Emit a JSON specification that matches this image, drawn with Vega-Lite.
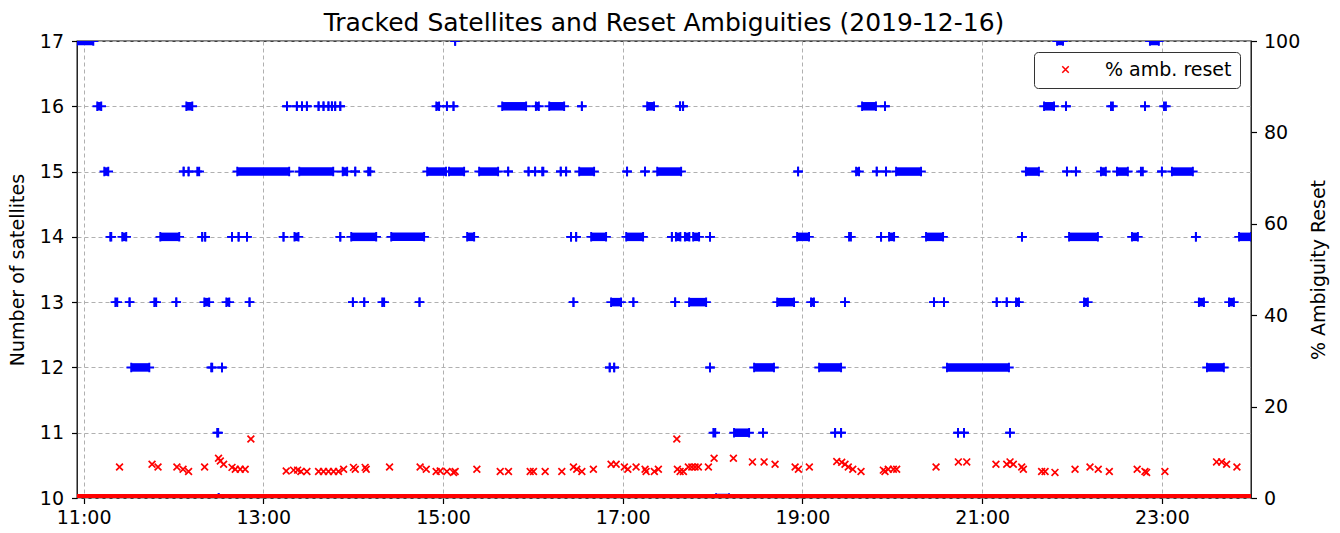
{
"$schema": "https://vega.github.io/schema/vega-lite/v6.json",
"width": 1174, "height": 457,
"autosize": {"type": "none"},
"padding": {"left": 77, "top": 41, "right": 89, "bottom": 35},
"title": {"text": "Tracked Satellites and Reset Ambiguities (2019-12-16)", "fontSize": 25, "fontWeight": "normal", "font": "DejaVu Sans", "color": "#000000", "offset": -4, "anchor": "middle"},
"datasets": {
"sat": [
{"n":17,"a":655.6,"b":666.5},{"n":17,"a":908.1,"b":908.1},{"n":17,"a":1310.0,"b":1314.0},{"n":17,"a":1372.0,"b":1378.0},
{"n":16,"a":669.1,"b":671.8},{"n":16,"a":728.6,"b":732.6},{"n":16,"a":795.8,"b":795.8},{"n":16,"a":802.4,"b":802.4},{"n":16,"a":805.8,"b":805.8},{"n":16,"a":809.1,"b":809.1},{"n":16,"a":816.9,"b":816.9},{"n":16,"a":820.2,"b":820.2},{"n":16,"a":823.5,"b":823.5},{"n":16,"a":825.8,"b":825.8},{"n":16,"a":828.0,"b":828.0},{"n":16,"a":831.4,"b":831.4},{"n":16,"a":895.5,"b":897.4},{"n":16,"a":902.6,"b":902.6},{"n":16,"a":907.0,"b":907.0},{"n":16,"a":939.5,"b":955.5},{"n":16,"a":962.0,"b":964.0},{"n":16,"a":970.9,"b":980.9},{"n":16,"a":992.7,"b":992.7},{"n":16,"a":1036.3,"b":1040.9},{"n":16,"a":1058.3,"b":1058.3},{"n":16,"a":1060.3,"b":1060.3},{"n":16,"a":1179.8,"b":1189.1},{"n":16,"a":1195.1,"b":1195.1},{"n":16,"a":1301.3,"b":1308.0},{"n":16,"a":1316.0,"b":1316.0},{"n":16,"a":1346.0,"b":1347.3},{"n":16,"a":1368.7,"b":1368.7},{"n":16,"a":1381.4,"b":1382.7},
{"n":15,"a":673.8,"b":676.5},{"n":15,"a":726.8,"b":726.8},{"n":15,"a":730.1,"b":730.1},{"n":15,"a":735.9,"b":737.2},{"n":15,"a":762.6,"b":797.3},{"n":15,"a":804.0,"b":826.7},{"n":15,"a":833.0,"b":836.0},{"n":15,"a":841.4,"b":841.4},{"n":15,"a":850.0,"b":851.5},{"n":15,"a":889.4,"b":902.0},{"n":15,"a":904.0,"b":914.1},{"n":15,"a":924.1,"b":936.8},{"n":15,"a":943.5,"b":943.5},{"n":15,"a":957.1,"b":957.1},{"n":15,"a":961.5,"b":961.5},{"n":15,"a":966.2,"b":967.0},{"n":15,"a":978.6,"b":978.6},{"n":15,"a":982.2,"b":982.2},{"n":15,"a":990.9,"b":1000.9},{"n":15,"a":1022.9,"b":1022.9},{"n":15,"a":1034.9,"b":1034.9},{"n":15,"a":1043.0,"b":1059.0},{"n":15,"a":1137.1,"b":1137.1},{"n":15,"a":1175.8,"b":1177.8},{"n":15,"a":1189.6,"b":1189.6},{"n":15,"a":1195.8,"b":1195.8},{"n":15,"a":1202.5,"b":1219.2},{"n":15,"a":1289.2,"b":1297.9},{"n":15,"a":1316.6,"b":1316.6},{"n":15,"a":1322.6,"b":1322.6},{"n":15,"a":1339.3,"b":1342.6},{"n":15,"a":1350.0,"b":1357.3},{"n":15,"a":1366.0,"b":1367.3},{"n":15,"a":1380.0,"b":1380.0},{"n":15,"a":1386.7,"b":1400.7},
{"n":14,"a":677.8,"b":678.5},{"n":14,"a":685.8,"b":688.5},{"n":14,"a":711.2,"b":723.9},{"n":14,"a":739.2,"b":739.2},{"n":14,"a":741.2,"b":741.2},{"n":14,"a":759.1,"b":759.1},{"n":14,"a":763.5,"b":763.5},{"n":14,"a":769.1,"b":769.1},{"n":14,"a":793.5,"b":793.5},{"n":14,"a":800.8,"b":803.5},{"n":14,"a":831.4,"b":831.4},{"n":14,"a":838.7,"b":855.4},{"n":14,"a":865.4,"b":887.4},{"n":14,"a":916.1,"b":920.8},{"n":14,"a":985.5,"b":985.5},{"n":14,"a":988.9,"b":988.9},{"n":14,"a":998.9,"b":1008.9},{"n":14,"a":1022.3,"b":1033.6},{"n":14,"a":1052.8,"b":1052.8},{"n":14,"a":1055.5,"b":1058.5},{"n":14,"a":1061.5,"b":1064.5},{"n":14,"a":1067.0,"b":1071.0},{"n":14,"a":1078.3,"b":1078.3},{"n":14,"a":1136.4,"b":1144.4},{"n":14,"a":1171.1,"b":1172.4},{"n":14,"a":1192.5,"b":1192.5},{"n":14,"a":1197.8,"b":1201.2},{"n":14,"a":1222.5,"b":1233.9},{"n":14,"a":1286.6,"b":1286.6},{"n":14,"a":1318.0,"b":1337.3},{"n":14,"a":1360.0,"b":1364.0},{"n":14,"a":1402.7,"b":1402.7},{"n":14,"a":1431.5,"b":1439.5},
{"n":13,"a":681.2,"b":682.5},{"n":13,"a":690.7,"b":690.7},{"n":13,"a":707.2,"b":708.5},{"n":13,"a":721.9,"b":721.9},{"n":13,"a":740.6,"b":743.9},{"n":13,"a":755.3,"b":757.3},{"n":13,"a":770.8,"b":770.8},{"n":13,"a":839.8,"b":839.8},{"n":13,"a":847.4,"b":847.4},{"n":13,"a":859.4,"b":860.7},{"n":13,"a":884.3,"b":884.3},{"n":13,"a":987.1,"b":987.1},{"n":13,"a":1012.2,"b":1018.9},{"n":13,"a":1027.1,"b":1027.1},{"n":13,"a":1055.0,"b":1055.0},{"n":13,"a":1064.3,"b":1075.7},{"n":13,"a":1123.1,"b":1134.4},{"n":13,"a":1145.7,"b":1147.7},{"n":13,"a":1168.4,"b":1168.4},{"n":13,"a":1227.8,"b":1227.8},{"n":13,"a":1234.5,"b":1234.5},{"n":13,"a":1269.7,"b":1269.7},{"n":13,"a":1276.4,"b":1276.4},{"n":13,"a":1282.6,"b":1284.6},{"n":13,"a":1328.0,"b":1330.6},{"n":13,"a":1404.7,"b":1408.1},{"n":13,"a":1424.8,"b":1428.1},
{"n":12,"a":691.8,"b":703.9},{"n":12,"a":745.2,"b":745.9},{"n":12,"a":752.4,"b":752.4},{"n":12,"a":1011.3,"b":1011.3},{"n":12,"a":1014.3,"b":1014.3},{"n":12,"a":1078.3,"b":1078.3},{"n":12,"a":1107.7,"b":1121.0},{"n":12,"a":1151.1,"b":1165.8},{"n":12,"a":1236.5,"b":1277.9},{"n":12,"a":1410.1,"b":1421.4},
{"n":11,"a":749.2,"b":749.9},{"n":11,"a":1080.5,"b":1081.8},{"n":11,"a":1094.3,"b":1104.4},{"n":11,"a":1113.7,"b":1113.7},{"n":11,"a":1161.8,"b":1161.8},{"n":11,"a":1165.8,"b":1165.8},{"n":11,"a":1243.9,"b":1243.9},{"n":11,"a":1247.9,"b":1247.9},{"n":11,"a":1278.6,"b":1278.6},
{"n":10,"a":750.2,"b":750.2},{"n":10,"a":1082.3,"b":1091.0}
],
"zero": [{"a":655.6,"b":1439.5,"p":0}],
"reset": [
{"t":684.0,"p":6.8},{"t":705.7,"p":7.4},{"t":709.7,"p":6.8},{"t":722.3,"p":6.8},{"t":726.4,"p":6.3},{"t":730.1,"p":5.8},{"t":740.8,"p":6.8},{"t":750.1,"p":8.7},{"t":751.3,"p":8.1},{"t":753.5,"p":7.4},{"t":759.1,"p":6.7},{"t":761.3,"p":6.3},{"t":764.6,"p":6.3},{"t":767.9,"p":6.3},{"t":771.7,"p":12.9},
{"t":795.3,"p":5.9},{"t":800.2,"p":6.1},{"t":802.9,"p":6.1},{"t":805.1,"p":5.8},{"t":809.1,"p":5.8},{"t":816.9,"p":5.8},{"t":820.2,"p":5.8},{"t":823.5,"p":5.8},{"t":826.9,"p":5.8},{"t":830.2,"p":5.8},{"t":833.6,"p":6.3},{"t":840.2,"p":6.7},{"t":841.4,"p":6.3},{"t":848.0,"p":6.7},{"t":848.7,"p":6.3},{"t":864.3,"p":6.8},{"t":884.7,"p":6.8},{"t":888.8,"p":6.3},{"t":895.4,"p":5.8},{"t":898.1,"p":5.9},{"t":902.6,"p":5.8},{"t":907.0,"p":5.6},{"t":908.1,"p":5.8},
{"t":922.6,"p":6.3},{"t":938.2,"p":5.8},{"t":943.7,"p":5.8},{"t":958.2,"p":5.8},{"t":960.4,"p":5.8},{"t":968.2,"p":5.8},{"t":979.3,"p":5.8},{"t":987.1,"p":6.8},{"t":989.3,"p":6.3},{"t":992.7,"p":5.8},{"t":1000.4,"p":6.3},{"t":1012.2,"p":7.4},{"t":1015.6,"p":7.4},{"t":1021.1,"p":6.8},{"t":1023.4,"p":6.3},{"t":1028.9,"p":6.8},{"t":1034.9,"p":6.3},{"t":1035.6,"p":5.8},{"t":1041.1,"p":5.8},{"t":1043.8,"p":6.3},
{"t":1056.1,"p":12.9},{"t":1056.5,"p":6.3},{"t":1058.3,"p":5.8},{"t":1060.5,"p":5.8},{"t":1063.8,"p":6.8},{"t":1066.1,"p":6.8},{"t":1068.3,"p":6.8},{"t":1070.5,"p":6.8},{"t":1077.2,"p":6.8},{"t":1081.0,"p":8.7},{"t":1093.9,"p":8.7},{"t":1106.6,"p":7.9},{"t":1114.4,"p":7.9},{"t":1121.7,"p":7.4},{"t":1135.1,"p":6.8},{"t":1137.3,"p":6.3},{"t":1144.6,"p":6.8},
{"t":1162.9,"p":8.0},{"t":1166.2,"p":7.8},{"t":1168.4,"p":7.4},{"t":1170.6,"p":6.8},{"t":1173.6,"p":6.3},{"t":1179.1,"p":5.8},{"t":1194.0,"p":6.1},{"t":1195.1,"p":5.8},{"t":1197.3,"p":6.3},{"t":1200.7,"p":6.3},{"t":1202.9,"p":6.3},{"t":1229.2,"p":6.8},{"t":1244.1,"p":7.9},{"t":1249.7,"p":7.9},
{"t":1269.2,"p":7.4},{"t":1276.4,"p":7.4},{"t":1278.6,"p":7.9},{"t":1280.8,"p":7.4},{"t":1286.4,"p":6.8},{"t":1287.5,"p":6.3},{"t":1299.7,"p":5.8},{"t":1302.0,"p":5.8},{"t":1308.6,"p":5.6},{"t":1322.0,"p":6.3},{"t":1332.0,"p":6.8},{"t":1337.5,"p":6.3},{"t":1344.9,"p":5.8},{"t":1363.5,"p":6.3},{"t":1368.7,"p":5.8},{"t":1369.8,"p":5.6},{"t":1382.0,"p":5.8},
{"t":1416.5,"p":7.9},{"t":1419.9,"p":7.9},{"t":1423.2,"p":7.4},{"t":1430.1,"p":6.8}
]
},
"layer": [
{
"data": {"name": "sat"},
"encoding": {"y": {"field": "n", "type": "quantitative", "scale": {"domain": [10, 17], "nice": false, "zero": false}, "axis": {"orient": "left", "values": [10,11,12,13,14,15,16,17], "grid": true, "title": "Number of satellites", "titlePadding": 12, "labelPadding": 8}}},
"layer": [
{"mark": {"type": "rule", "color": "#0000ff", "strokeWidth": 8.5, "clip": true},
 "encoding": {"x": {"field": "a", "type": "quantitative", "scale": {"domain": [655.6, 1439.5], "nice": false, "zero": false}, "axis": {"values": [660,780,900,1020,1140,1260,1380], "grid": true, "title": null, "labelExpr": "format(floor(datum.value/60), '02d') + ':00'", "labelPadding": 5}}, "x2": {"field": "b"}}},
{"transform": [{"fold": ["a", "b"], "as": ["k", "t"]}],
 "mark": {"type": "point", "shape": "M-1,0L1,0M0,-1L0,1", "filled": false, "color": "#0000ff", "strokeWidth": 1.9, "size": 90, "opacity": 1, "clip": true},
 "encoding": {"x": {"field": "t", "type": "quantitative", "scale": {"domain": [655.6, 1439.5], "nice": false, "zero": false}, "axis": {"title": null}}}}
]
},
{
"encoding": {"y": {"field": "p", "type": "quantitative", "scale": {"domain": [0, 100], "nice": false, "zero": false}, "axis": {"orient": "right", "values": [0,20,40,60,80,100], "grid": false, "title": "% Ambiguity Reset", "titleAngle": 270, "titlePadding": 29, "labelPadding": 7}}},
"layer": [
{"data": {"name": "zero"},
 "mark": {"type": "rule", "color": "#ff0000", "strokeWidth": 8, "clip": true},
 "encoding": {"x": {"field": "a", "type": "quantitative", "scale": {"domain": [655.6, 1439.5], "nice": false, "zero": false}, "axis": {"title": null}}, "x2": {"field": "b"}}},
{"data": {"name": "reset"},
 "mark": {"type": "point", "shape": "M-1,-1L1,1M-1,1L1,-1", "filled": false, "strokeWidth": 1.7, "size": 46, "opacity": 1, "clip": true},
 "encoding": {"x": {"field": "t", "type": "quantitative", "scale": {"domain": [655.6, 1439.5], "nice": false, "zero": false}, "axis": {"title": null}},
   "color": {"datum": "% amb. reset", "scale": {"range": ["#ff0000"]}, "legend": {"orient": "top-right", "offset": 11, "title": null, "padding": 8, "strokeColor": "#333333", "cornerRadius": 4, "fillColor": "#ffffff", "labelFontSize": 19, "labelFont": "DejaVu Sans", "labelColor": "#000000", "symbolType": "M-1,-1L1,1M-1,1L1,-1", "symbolSize": 42, "symbolStrokeWidth": 1.5, "symbolOffset": 14, "labelOffset": 30}}}}
]
}
],
"resolve": {"scale": {"y": "independent"}},
"config": {
"font": "DejaVu Sans",
"view": {"stroke": "#000000", "strokeWidth": 1.3},
"axis": {"labelFont": "DejaVu Sans", "labelFontSize": 19, "labelColor": "#000000", "titleFont": "DejaVu Sans", "titleFontSize": 19, "titleFontWeight": "normal", "titleColor": "#000000", "tickColor": "#000000", "tickSize": 5.5, "tickWidth": 1.2, "domain": false, "gridColor": "#b0b0b0", "gridDash": [4, 3], "gridWidth": 1}
}
}
